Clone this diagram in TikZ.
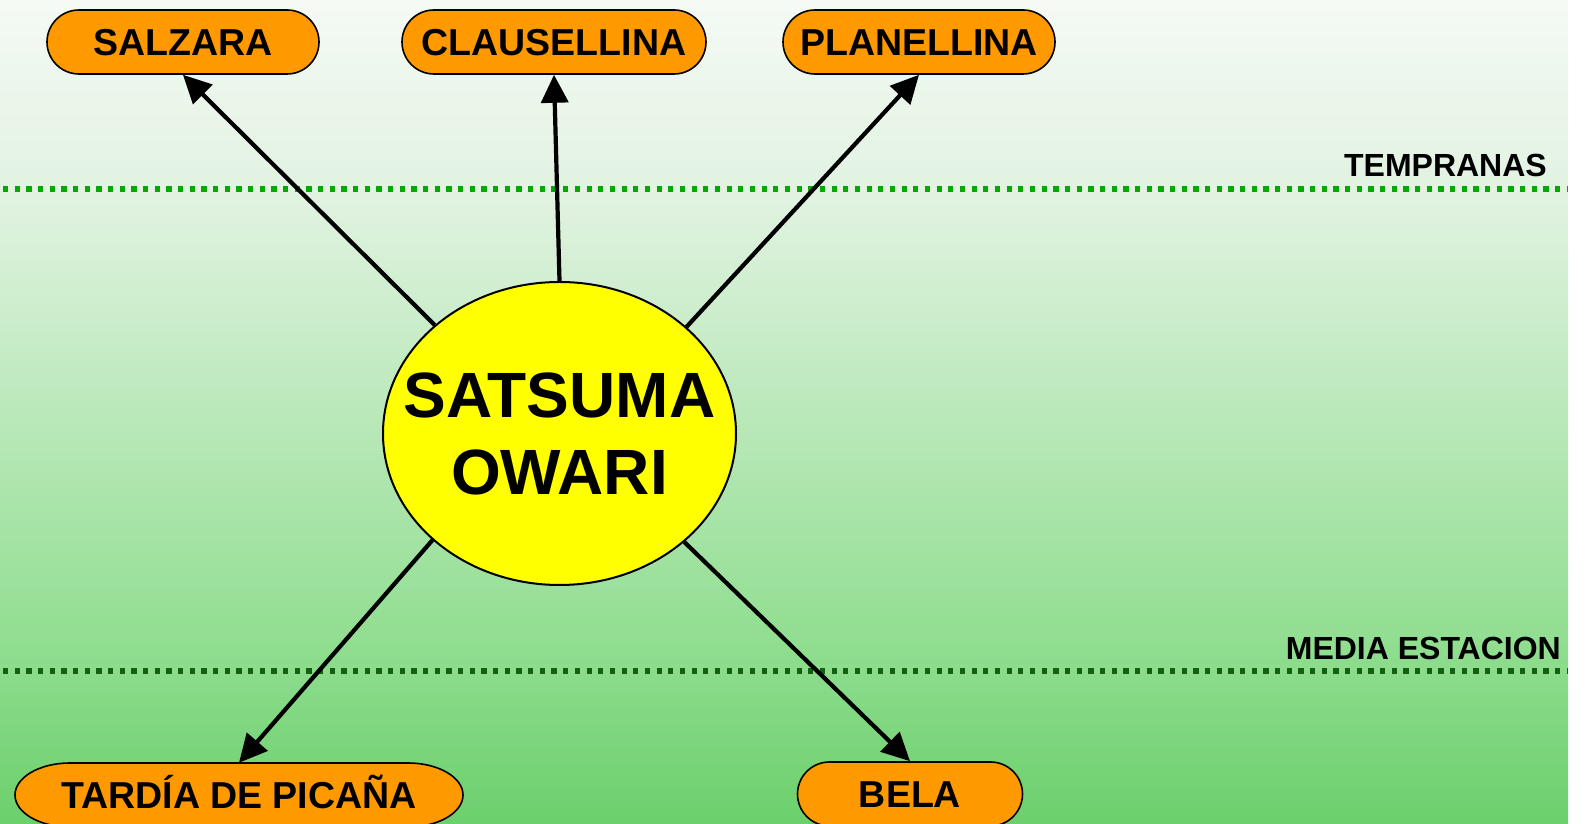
\documentclass[tikz,border=0pt]{standalone}
\usepackage{fontspec}
\setmainfont{Liberation Sans}
\usetikzlibrary{arrows.meta,shapes.geometric}
\definecolor{leaforange}{RGB}{255,153,0}
\definecolor{coreyellow}{RGB}{255,255,0}
\definecolor{bandtop}{RGB}{0,170,0}
\definecolor{bandbot}{RGB}{20,95,20}
\pgfdeclareverticalshading{bgshade}{100bp}{rgb(0bp)=(0.42,0.815,0.42); rgb(25bp)=(0.42,0.815,0.42); rgb(36.2bp)=(0.57,0.87,0.57); rgb(62.9bp)=(0.88,0.95,0.88); rgb(75bp)=(0.96,0.98,0.96); rgb(100bp)=(0.96,0.98,0.96)}
\tikzset{
  leaf/.style={rectangle, rounded corners=32pt, draw=black, line width=1.6pt, fill=leaforange,
    minimum height=64pt, inner sep=0pt, text height=26.8pt, text depth=0pt,
    font=\bfseries\fontsize{37.5}{45}\selectfont},
  leaftext/.style={inner sep=0pt, text height=26.8pt, text depth=0pt,
    font=\bfseries\fontsize{37.5}{45}\selectfont},
  arr/.style={line width=4.2pt, -{Triangle[length=28pt,width=27pt]}},
  band/.style={line width=5.2pt, dash pattern=on 5.2pt off 6.47pt},
  bandlabel/.style={inner sep=0pt, font=\bfseries\fontsize{32}{38}\selectfont}
}
\begin{document}
\begin{tikzpicture}[x=1pt,y=1pt]
\useasboundingbox (0,0) rectangle (1588,824);
\fill[white] (0,0) rectangle (1588,824);
\shade[shading=bgshade] (0,0) rectangle (1568,824);

% season bands
\draw[band, bandtop] (3,635) -- (1568,635);
\draw[band, bandbot] (3,153) -- (1568,153);
\node[bandlabel, anchor=base east] (temp) at (1547,647) {TEMPRANAS};
\node[bandlabel, anchor=base east] (media) at (1561,164) {MEDIA ESTACION};

% centre
\node[ellipse, draw=black, line width=2pt, fill=coreyellow, minimum width=353pt, minimum height=303pt, inner sep=0pt] (sat) at (559.5,390.5) {};
\node[align=center, inner sep=0pt, font=\bfseries\fontsize{64}{77}\selectfont] (sattext) at (sat.center) {SATSUMA\\OWARI};

% leaves
\node[leaf, minimum width=272pt] (sal) at (183,782) {SALZARA};
\node[leaf, minimum width=304pt] (cla) at (554,782) {CLAUSELLINA};
\node[leaf, minimum width=272pt] (pla) at (919,782) {PLANELLINA};
\node[leaf, minimum width=225pt] (bel) at (910,30) {BELA};
\draw[line width=1.6pt, fill=leaforange] (70,61) -- (408,61)
  arc[start angle=90, end angle=-90, x radius=55, y radius=32] -- (70,-3)
  arc[start angle=270, end angle=90, x radius=55, y radius=32] -- cycle;
\node[leaftext, minimum width=448pt, minimum height=64pt] (tar) at (239,29) {TARDÍA DE PICAÑA};

% connectors
\draw[arr] (sat.139.4) -- (sal.south);
\draw[arr] (sat.90) -- (cla.south);
\draw[arr] (sat.40.6) -- (pla.south);
\draw[arr] (sat.220.6) -- (tar.north);
\draw[arr] (sat.319.4) -- (bel.north);
\end{tikzpicture}
\end{document}
